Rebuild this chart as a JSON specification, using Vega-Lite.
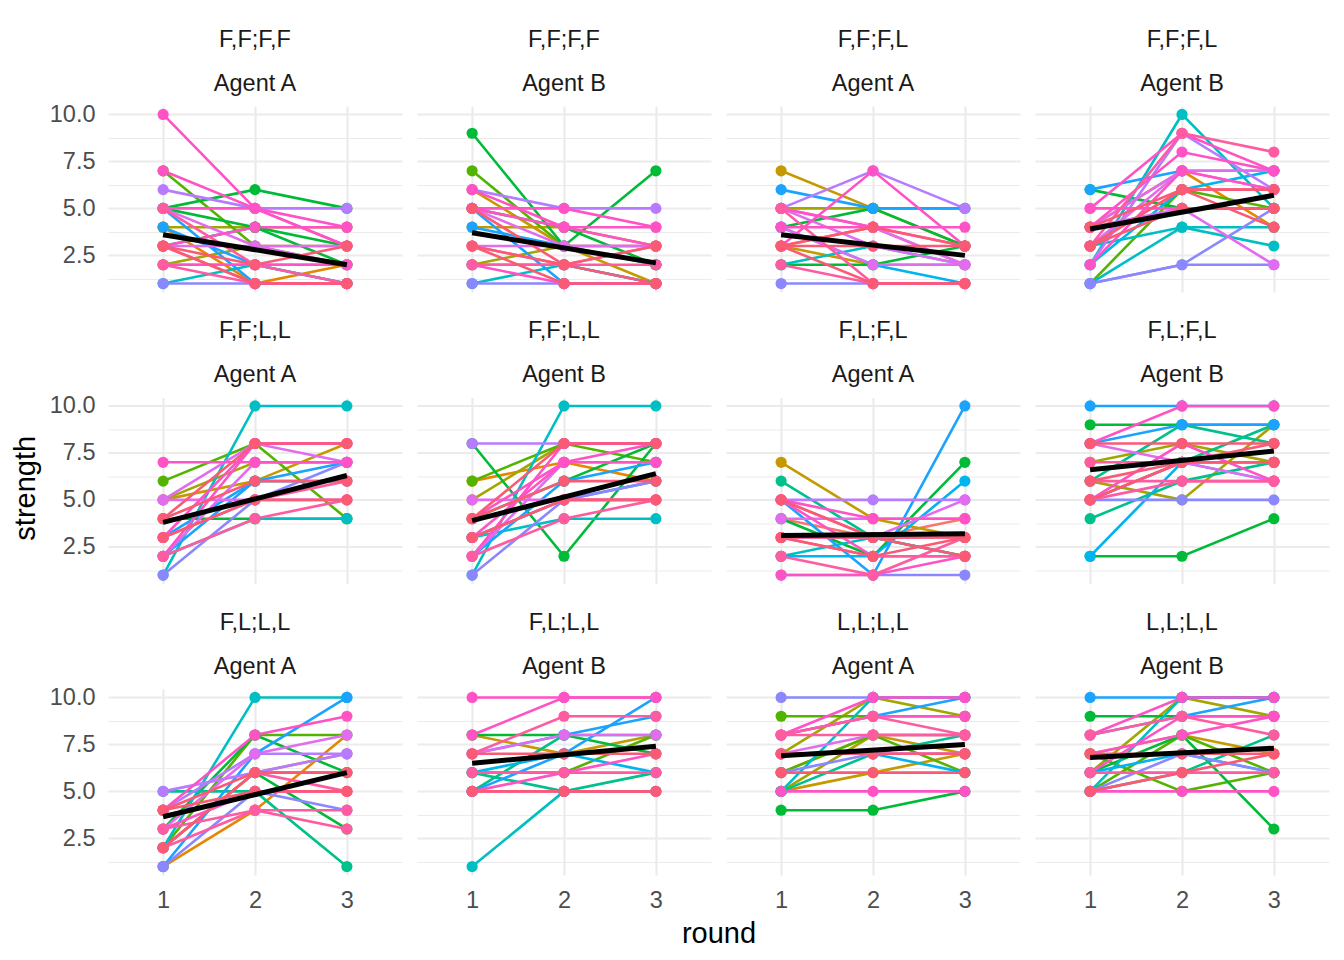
{
  "$schema": "https://vega.github.io/schema/vega-lite/v6.json",
  "background": "white",
  "padding": {"left": 12, "top": 27, "right": 14, "bottom": 10},
  "title": {"text": "strength", "orient": "left", "anchor": "middle", "fontSize": 29, "fontWeight": "normal", "font": "Liberation Sans", "color": "#000000", "offset": 8},
  "data": {"values": [
    {"f":"F,F;F,F|Agent A","p":2,"g":1,"1":4,"2":1,"3":2},
    {"f":"F,F;F,F|Agent A","p":4,"g":2,"1":4,"2":4,"3":4},
    {"f":"F,F;F,F|Agent A","p":4,"g":3,"1":2,"2":3,"3":3},
    {"f":"F,F;F,F|Agent A","p":5,"g":4,"1":7,"2":3,"3":2},
    {"f":"F,F;F,F|Agent A","p":6,"g":5,"1":5,"2":6,"3":5},
    {"f":"F,F;F,F|Agent A","p":6,"g":6,"1":5,"2":4,"3":2},
    {"f":"F,F;F,F|Agent A","p":6,"g":7,"1":3,"2":4,"3":3},
    {"f":"F,F;F,F|Agent A","p":8,"g":8,"1":1,"2":2,"3":1},
    {"f":"F,F;F,F|Agent A","p":10,"g":9,"1":4,"2":2,"3":1},
    {"f":"F,F;F,F|Agent A","p":10,"g":10,"1":5,"2":1,"3":1},
    {"f":"F,F;F,F|Agent A","p":12,"g":11,"1":1,"2":1,"3":1},
    {"f":"F,F;F,F|Agent A","p":13,"g":12,"1":6,"2":5,"3":5},
    {"f":"F,F;F,F|Agent A","p":14,"g":13,"1":5,"2":3,"3":2},
    {"f":"F,F;F,F|Agent A","p":14,"g":14,"1":3,"2":3,"3":3},
    {"f":"F,F;F,F|Agent A","p":14,"g":15,"1":2,"2":2,"3":2},
    {"f":"F,F;F,F|Agent A","p":15,"g":16,"1":10,"2":5,"3":3},
    {"f":"F,F;F,F|Agent A","p":15,"g":17,"1":7,"2":5,"3":3},
    {"f":"F,F;F,F|Agent A","p":15,"g":18,"1":5,"2":5,"3":4},
    {"f":"F,F;F,F|Agent A","p":15,"g":19,"1":3,"2":4,"3":4},
    {"f":"F,F;F,F|Agent A","p":15,"g":20,"1":2,"2":2,"3":2},
    {"f":"F,F;F,F|Agent A","p":16,"g":21,"1":3,"2":1,"3":1},
    {"f":"F,F;F,F|Agent A","p":16,"g":22,"1":5,"2":2,"3":1},
    {"f":"F,F;F,F|Agent A","p":16,"g":23,"1":2,"2":1,"3":1},
    {"f":"F,F;F,F|Agent A","p":17,"g":24,"1":3,"2":2,"3":3},
    {"f":"F,F;F,F|Agent A","p":17,"g":25,"1":3,"2":1,"3":1},
    {"f":"F,F;F,F|Agent A","p":0,"g":0,"1":3.6,"3":2.0},

    {"f":"F,F;F,F|Agent B","p":3,"g":1,"1":6,"2":3,"3":1},
    {"f":"F,F;F,F|Agent B","p":3,"g":2,"1":4,"2":4,"3":3},
    {"f":"F,F;F,F|Agent B","p":4,"g":3,"1":2,"2":3,"3":3},
    {"f":"F,F;F,F|Agent B","p":5,"g":4,"1":7,"2":3,"3":2},
    {"f":"F,F;F,F|Agent B","p":6,"g":5,"1":9,"2":3,"3":7},
    {"f":"F,F;F,F|Agent B","p":6,"g":6,"1":5,"2":4,"3":2},
    {"f":"F,F;F,F|Agent B","p":8,"g":7,"1":1,"2":2,"3":1},
    {"f":"F,F;F,F|Agent B","p":9,"g":8,"1":2,"2":2,"3":1},
    {"f":"F,F;F,F|Agent B","p":10,"g":9,"1":4,"2":3,"3":2},
    {"f":"F,F;F,F|Agent B","p":10,"g":10,"1":5,"2":1,"3":1},
    {"f":"F,F;F,F|Agent B","p":12,"g":11,"1":1,"2":1,"3":1},
    {"f":"F,F;F,F|Agent B","p":13,"g":12,"1":6,"2":5,"3":5},
    {"f":"F,F;F,F|Agent B","p":14,"g":13,"1":5,"2":3,"3":3},
    {"f":"F,F;F,F|Agent B","p":14,"g":14,"1":3,"2":3,"3":3},
    {"f":"F,F;F,F|Agent B","p":15,"g":15,"1":6,"2":4,"3":3},
    {"f":"F,F;F,F|Agent B","p":15,"g":16,"1":5,"2":5,"3":4},
    {"f":"F,F;F,F|Agent B","p":15,"g":17,"1":2,"2":1,"3":1},
    {"f":"F,F;F,F|Agent B","p":15,"g":18,"1":5,"2":4,"3":4},
    {"f":"F,F;F,F|Agent B","p":16,"g":19,"1":3,"2":2,"3":2},
    {"f":"F,F;F,F|Agent B","p":16,"g":20,"1":2,"2":2,"3":3},
    {"f":"F,F;F,F|Agent B","p":17,"g":21,"1":3,"2":1,"3":1},
    {"f":"F,F;F,F|Agent B","p":17,"g":22,"1":3,"2":2,"3":3},
    {"f":"F,F;F,F|Agent B","p":17,"g":23,"1":5,"2":2,"3":1},
    {"f":"F,F;F,F|Agent B","p":0,"g":0,"1":3.7,"3":2.1},

    {"f":"F,F;F,L|Agent A","p":1,"g":1,"1":3,"2":4,"3":2},
    {"f":"F,F;F,L|Agent A","p":3,"g":2,"1":7,"2":5,"3":3},
    {"f":"F,F;F,L|Agent A","p":3,"g":3,"1":3,"2":2,"3":2},
    {"f":"F,F;F,L|Agent A","p":4,"g":4,"1":5,"2":5,"3":5},
    {"f":"F,F;F,L|Agent A","p":6,"g":5,"1":4,"2":5,"3":3},
    {"f":"F,F;F,L|Agent A","p":6,"g":6,"1":2,"2":2,"3":3},
    {"f":"F,F;F,L|Agent A","p":8,"g":7,"1":2,"2":3,"3":2},
    {"f":"F,F;F,L|Agent A","p":9,"g":8,"1":4,"2":2,"3":1},
    {"f":"F,F;F,L|Agent A","p":10,"g":9,"1":6,"2":5,"3":5},
    {"f":"F,F;F,L|Agent A","p":12,"g":10,"1":1,"2":1,"3":1},
    {"f":"F,F;F,L|Agent A","p":13,"g":11,"1":5,"2":7,"3":5},
    {"f":"F,F;F,L|Agent A","p":14,"g":12,"1":5,"2":3,"3":2},
    {"f":"F,F;F,L|Agent A","p":14,"g":13,"1":5,"2":4,"3":2},
    {"f":"F,F;F,L|Agent A","p":14,"g":14,"1":4,"2":2,"3":2},
    {"f":"F,F;F,L|Agent A","p":15,"g":15,"1":3,"2":7,"3":3},
    {"f":"F,F;F,L|Agent A","p":15,"g":16,"1":4,"2":4,"3":4},
    {"f":"F,F;F,L|Agent A","p":15,"g":17,"1":5,"2":4,"3":3},
    {"f":"F,F;F,L|Agent A","p":16,"g":18,"1":5,"2":1,"3":1},
    {"f":"F,F;F,L|Agent A","p":16,"g":19,"1":2,"2":1,"3":1},
    {"f":"F,F;F,L|Agent A","p":17,"g":20,"1":3,"2":3,"3":3},
    {"f":"F,F;F,L|Agent A","p":17,"g":21,"1":3,"2":4,"3":3},
    {"f":"F,F;F,L|Agent A","p":17,"g":22,"1":3,"2":1,"3":1},
    {"f":"F,F;F,L|Agent A","p":0,"g":0,"1":3.6,"3":2.5},

    {"f":"F,F;F,L|Agent B","p":2,"g":1,"1":4,"2":7,"3":4},
    {"f":"F,F;F,L|Agent B","p":5,"g":2,"1":1,"2":6,"3":5},
    {"f":"F,F;F,L|Agent B","p":6,"g":3,"1":6,"2":5,"3":5},
    {"f":"F,F;F,L|Agent B","p":8,"g":4,"1":2,"2":10,"3":5},
    {"f":"F,F;F,L|Agent B","p":8,"g":5,"1":1,"2":4,"3":3},
    {"f":"F,F;F,L|Agent B","p":8,"g":6,"1":3,"2":4,"3":4},
    {"f":"F,F;F,L|Agent B","p":9,"g":7,"1":2,"2":6,"3":7},
    {"f":"F,F;F,L|Agent B","p":10,"g":8,"1":6,"2":7,"3":7},
    {"f":"F,F;F,L|Agent B","p":12,"g":9,"1":1,"2":2,"3":5},
    {"f":"F,F;F,L|Agent B","p":12,"g":10,"1":1,"2":2,"3":2},
    {"f":"F,F;F,L|Agent B","p":13,"g":11,"1":2,"2":9,"3":6},
    {"f":"F,F;F,L|Agent B","p":14,"g":12,"1":4,"2":5,"3":2},
    {"f":"F,F;F,L|Agent B","p":14,"g":13,"1":4,"2":7,"3":6},
    {"f":"F,F;F,L|Agent B","p":14,"g":14,"1":3,"2":7,"3":7},
    {"f":"F,F;F,L|Agent B","p":15,"g":15,"1":5,"2":9,"3":7},
    {"f":"F,F;F,L|Agent B","p":15,"g":16,"1":4,"2":8,"3":7},
    {"f":"F,F;F,L|Agent B","p":15,"g":17,"1":2,"2":7,"3":6},
    {"f":"F,F;F,L|Agent B","p":15,"g":18,"1":5,"2":5,"3":5},
    {"f":"F,F;F,L|Agent B","p":16,"g":19,"1":3,"2":9,"3":8},
    {"f":"F,F;F,L|Agent B","p":16,"g":20,"1":3,"2":6,"3":6},
    {"f":"F,F;F,L|Agent B","p":17,"g":21,"1":3,"2":6,"3":4},
    {"f":"F,F;F,L|Agent B","p":17,"g":22,"1":4,"2":6,"3":6},
    {"f":"F,F;F,L|Agent B","p":17,"g":23,"1":3,"2":5,"3":5},
    {"f":"F,F;F,L|Agent B","p":0,"g":0,"1":3.9,"3":5.7},

    {"f":"F,F;L,L|Agent A","p":3,"g":1,"1":5,"2":6,"3":8},
    {"f":"F,F;L,L|Agent A","p":4,"g":2,"1":5,"2":7,"3":7},
    {"f":"F,F;L,L|Agent A","p":5,"g":3,"1":6,"2":8,"3":4},
    {"f":"F,F;L,L|Agent A","p":6,"g":4,"1":4,"2":4,"3":4},
    {"f":"F,F;L,L|Agent A","p":8,"g":5,"1":1,"2":10,"3":10},
    {"f":"F,F;L,L|Agent A","p":8,"g":6,"1":2,"2":4,"3":4},
    {"f":"F,F;L,L|Agent A","p":10,"g":7,"1":2,"2":6,"3":7},
    {"f":"F,F;L,L|Agent A","p":10,"g":8,"1":3,"2":6,"3":6},
    {"f":"F,F;L,L|Agent A","p":12,"g":9,"1":1,"2":5,"3":7},
    {"f":"F,F;L,L|Agent A","p":14,"g":10,"1":5,"2":5,"3":5},
    {"f":"F,F;L,L|Agent A","p":14,"g":11,"1":2,"2":7,"3":7},
    {"f":"F,F;L,L|Agent A","p":14,"g":12,"1":5,"2":8,"3":7},
    {"f":"F,F;L,L|Agent A","p":15,"g":13,"1":7,"2":7,"3":7},
    {"f":"F,F;L,L|Agent A","p":15,"g":14,"1":3,"2":8,"3":8},
    {"f":"F,F;L,L|Agent A","p":15,"g":15,"1":2,"2":8,"3":8},
    {"f":"F,F;L,L|Agent A","p":16,"g":16,"1":3,"2":5,"3":6},
    {"f":"F,F;L,L|Agent A","p":16,"g":17,"1":2,"2":4,"3":5},
    {"f":"F,F;L,L|Agent A","p":17,"g":18,"1":4,"2":6,"3":6},
    {"f":"F,F;L,L|Agent A","p":17,"g":19,"1":3,"2":5,"3":5},
    {"f":"F,F;L,L|Agent A","p":17,"g":20,"1":4,"2":8,"3":8},
    {"f":"F,F;L,L|Agent A","p":0,"g":0,"1":3.8,"3":6.3},

    {"f":"F,F;L,L|Agent B","p":2,"g":1,"1":6,"2":7,"3":6},
    {"f":"F,F;L,L|Agent B","p":4,"g":2,"1":5,"2":8,"3":8},
    {"f":"F,F;L,L|Agent B","p":5,"g":3,"1":6,"2":8,"3":7},
    {"f":"F,F;L,L|Agent B","p":6,"g":4,"1":8,"2":2,"3":8},
    {"f":"F,F;L,L|Agent B","p":6,"g":5,"1":4,"2":6,"3":8},
    {"f":"F,F;L,L|Agent B","p":8,"g":6,"1":1,"2":10,"3":10},
    {"f":"F,F;L,L|Agent B","p":8,"g":7,"1":3,"2":4,"3":4},
    {"f":"F,F;L,L|Agent B","p":10,"g":8,"1":2,"2":6,"3":7},
    {"f":"F,F;L,L|Agent B","p":10,"g":9,"1":3,"2":5,"3":6},
    {"f":"F,F;L,L|Agent B","p":12,"g":10,"1":1,"2":5,"3":6},
    {"f":"F,F;L,L|Agent B","p":13,"g":11,"1":8,"2":8,"3":8},
    {"f":"F,F;L,L|Agent B","p":14,"g":12,"1":5,"2":5,"3":5},
    {"f":"F,F;L,L|Agent B","p":14,"g":13,"1":2,"2":7,"3":7},
    {"f":"F,F;L,L|Agent B","p":15,"g":14,"1":3,"2":7,"3":7},
    {"f":"F,F;L,L|Agent B","p":15,"g":15,"1":2,"2":8,"3":8},
    {"f":"F,F;L,L|Agent B","p":15,"g":16,"1":4,"2":7,"3":8},
    {"f":"F,F;L,L|Agent B","p":16,"g":17,"1":2,"2":4,"3":5},
    {"f":"F,F;L,L|Agent B","p":16,"g":18,"1":3,"2":5,"3":5},
    {"f":"F,F;L,L|Agent B","p":17,"g":19,"1":4,"2":6,"3":6},
    {"f":"F,F;L,L|Agent B","p":17,"g":20,"1":3,"2":5,"3":5},
    {"f":"F,F;L,L|Agent B","p":17,"g":21,"1":4,"2":8,"3":8},
    {"f":"F,F;L,L|Agent B","p":0,"g":0,"1":3.9,"3":6.4},

    {"f":"F,L;F,L|Agent A","p":1,"g":1,"1":4,"2":3,"3":4},
    {"f":"F,L;F,L|Agent A","p":3,"g":2,"1":7,"2":4,"3":3},
    {"f":"F,L;F,L|Agent A","p":6,"g":3,"1":4,"2":2,"3":7},
    {"f":"F,L;F,L|Agent A","p":7,"g":4,"1":6,"2":3,"3":2},
    {"f":"F,L;F,L|Agent A","p":8,"g":5,"1":2,"2":3,"3":2},
    {"f":"F,L;F,L|Agent A","p":9,"g":6,"1":2,"2":2,"3":6},
    {"f":"F,L;F,L|Agent A","p":10,"g":7,"1":5,"2":1,"3":10},
    {"f":"F,L;F,L|Agent A","p":12,"g":8,"1":1,"2":1,"3":1},
    {"f":"F,L;F,L|Agent A","p":13,"g":9,"1":5,"2":5,"3":5},
    {"f":"F,L;F,L|Agent A","p":14,"g":10,"1":4,"2":4,"3":4},
    {"f":"F,L;F,L|Agent A","p":14,"g":11,"1":3,"2":3,"3":5},
    {"f":"F,L;F,L|Agent A","p":15,"g":12,"1":5,"2":4,"3":4},
    {"f":"F,L;F,L|Agent A","p":15,"g":13,"1":1,"2":1,"3":2},
    {"f":"F,L;F,L|Agent A","p":15,"g":14,"1":5,"2":2,"3":2},
    {"f":"F,L;F,L|Agent A","p":16,"g":15,"1":3,"2":2,"3":2},
    {"f":"F,L;F,L|Agent A","p":16,"g":16,"1":5,"2":3,"3":3},
    {"f":"F,L;F,L|Agent A","p":16,"g":17,"1":2,"2":1,"3":3},
    {"f":"F,L;F,L|Agent A","p":17,"g":18,"1":3,"2":3,"3":3},
    {"f":"F,L;F,L|Agent A","p":17,"g":19,"1":3,"2":2,"3":3},
    {"f":"F,L;F,L|Agent A","p":17,"g":20,"1":5,"2":3,"3":2},
    {"f":"F,L;F,L|Agent A","p":0,"g":0,"1":3.1,"3":3.2},

    {"f":"F,L;F,L|Agent B","p":1,"g":1,"1":5,"2":7,"3":7},
    {"f":"F,L;F,L|Agent B","p":4,"g":2,"1":7,"2":8,"3":7},
    {"f":"F,L;F,L|Agent B","p":4,"g":3,"1":6,"2":5,"3":9},
    {"f":"F,L;F,L|Agent B","p":6,"g":4,"1":2,"2":2,"3":4},
    {"f":"F,L;F,L|Agent B","p":6,"g":5,"1":9,"2":9,"3":9},
    {"f":"F,L;F,L|Agent B","p":7,"g":6,"1":4,"2":6,"3":7},
    {"f":"F,L;F,L|Agent B","p":7,"g":7,"1":6,"2":9,"3":8},
    {"f":"F,L;F,L|Agent B","p":7,"g":8,"1":5,"2":7,"3":9},
    {"f":"F,L;F,L|Agent B","p":9,"g":9,"1":2,"2":7,"3":6},
    {"f":"F,L;F,L|Agent B","p":10,"g":10,"1":10,"2":10,"3":10},
    {"f":"F,L;F,L|Agent B","p":10,"g":11,"1":8,"2":9,"3":9},
    {"f":"F,L;F,L|Agent B","p":12,"g":12,"1":5,"2":5,"3":5},
    {"f":"F,L;F,L|Agent B","p":14,"g":13,"1":8,"2":7,"3":6},
    {"f":"F,L;F,L|Agent B","p":15,"g":14,"1":8,"2":10,"3":10},
    {"f":"F,L;F,L|Agent B","p":15,"g":15,"1":5,"2":8,"3":6},
    {"f":"F,L;F,L|Agent B","p":15,"g":16,"1":5,"2":7,"3":7},
    {"f":"F,L;F,L|Agent B","p":16,"g":17,"1":7,"2":7,"3":7},
    {"f":"F,L;F,L|Agent B","p":16,"g":18,"1":6,"2":6,"3":6},
    {"f":"F,L;F,L|Agent B","p":16,"g":19,"1":5,"2":6,"3":6},
    {"f":"F,L;F,L|Agent B","p":17,"g":20,"1":8,"2":8,"3":8},
    {"f":"F,L;F,L|Agent B","p":17,"g":21,"1":6,"2":7,"3":7},
    {"f":"F,L;F,L|Agent B","p":17,"g":22,"1":5,"2":7,"3":8},
    {"f":"F,L;F,L|Agent B","p":0,"g":0,"1":6.6,"3":7.6},

    {"f":"F,L;L,L|Agent A","p":2,"g":1,"1":1,"2":4,"3":8},
    {"f":"F,L;L,L|Agent A","p":2,"g":2,"1":2,"2":6,"3":7},
    {"f":"F,L;L,L|Agent A","p":5,"g":3,"1":2,"2":8,"3":8},
    {"f":"F,L;L,L|Agent A","p":6,"g":4,"1":3,"2":8,"3":6},
    {"f":"F,L;L,L|Agent A","p":6,"g":5,"1":2,"2":6,"3":3},
    {"f":"F,L;L,L|Agent A","p":7,"g":6,"1":5,"2":5,"3":1},
    {"f":"F,L;L,L|Agent A","p":8,"g":7,"1":2,"2":10,"3":10},
    {"f":"F,L;L,L|Agent A","p":10,"g":8,"1":1,"2":7,"3":10},
    {"f":"F,L;L,L|Agent A","p":12,"g":9,"1":1,"2":5,"3":4},
    {"f":"F,L;L,L|Agent A","p":13,"g":10,"1":4,"2":7,"3":7},
    {"f":"F,L;L,L|Agent A","p":13,"g":11,"1":5,"2":6,"3":7},
    {"f":"F,L;L,L|Agent A","p":14,"g":12,"1":3,"2":7,"3":8},
    {"f":"F,L;L,L|Agent A","p":15,"g":13,"1":4,"2":8,"3":9},
    {"f":"F,L;L,L|Agent A","p":15,"g":14,"1":3,"2":5,"3":5},
    {"f":"F,L;L,L|Agent A","p":16,"g":15,"1":2,"2":4,"3":3},
    {"f":"F,L;L,L|Agent A","p":16,"g":16,"1":2,"2":6,"3":5},
    {"f":"F,L;L,L|Agent A","p":16,"g":17,"1":3,"2":4,"3":4},
    {"f":"F,L;L,L|Agent A","p":17,"g":18,"1":4,"2":6,"3":6},
    {"f":"F,L;L,L|Agent A","p":17,"g":19,"1":2,"2":6,"3":6},
    {"f":"F,L;L,L|Agent A","p":17,"g":20,"1":4,"2":5,"3":5},
    {"f":"F,L;L,L|Agent A","p":0,"g":0,"1":3.65,"3":6.0},

    {"f":"F,L;L,L|Agent B","p":3,"g":1,"1":8,"2":7,"3":8},
    {"f":"F,L;L,L|Agent B","p":5,"g":2,"1":6,"2":6,"3":8},
    {"f":"F,L;L,L|Agent B","p":6,"g":3,"1":8,"2":8,"3":7},
    {"f":"F,L;L,L|Agent B","p":7,"g":4,"1":6,"2":5,"3":6},
    {"f":"F,L;L,L|Agent B","p":7,"g":5,"1":5,"2":8,"3":8},
    {"f":"F,L;L,L|Agent B","p":8,"g":6,"1":1,"2":5,"3":5},
    {"f":"F,L;L,L|Agent B","p":9,"g":7,"1":6,"2":7,"3":6},
    {"f":"F,L;L,L|Agent B","p":10,"g":8,"1":5,"2":7,"3":10},
    {"f":"F,L;L,L|Agent B","p":10,"g":9,"1":7,"2":8,"3":9},
    {"f":"F,L;L,L|Agent B","p":14,"g":10,"1":7,"2":8,"3":8},
    {"f":"F,L;L,L|Agent B","p":15,"g":11,"1":10,"2":10,"3":10},
    {"f":"F,L;L,L|Agent B","p":15,"g":12,"1":8,"2":10,"3":10},
    {"f":"F,L;L,L|Agent B","p":15,"g":13,"1":5,"2":6,"3":7},
    {"f":"F,L;L,L|Agent B","p":15,"g":14,"1":5,"2":5,"3":5},
    {"f":"F,L;L,L|Agent B","p":16,"g":15,"1":7,"2":9,"3":9},
    {"f":"F,L;L,L|Agent B","p":16,"g":16,"1":6,"2":6,"3":6},
    {"f":"F,L;L,L|Agent B","p":17,"g":17,"1":7,"2":7,"3":7},
    {"f":"F,L;L,L|Agent B","p":17,"g":18,"1":5,"2":5,"3":5},
    {"f":"F,L;L,L|Agent B","p":0,"g":0,"1":6.5,"3":7.4},

    {"f":"L,L;L,L|Agent A","p":3,"g":1,"1":5,"2":6,"3":7},
    {"f":"L,L;L,L|Agent A","p":3,"g":2,"1":6,"2":8,"3":7},
    {"f":"L,L;L,L|Agent A","p":4,"g":3,"1":7,"2":10,"3":9},
    {"f":"L,L;L,L|Agent A","p":4,"g":4,"1":5,"2":8,"3":8},
    {"f":"L,L;L,L|Agent A","p":5,"g":5,"1":9,"2":9,"3":9},
    {"f":"L,L;L,L|Agent A","p":5,"g":6,"1":6,"2":8,"3":6},
    {"f":"L,L;L,L|Agent A","p":6,"g":7,"1":4,"2":4,"3":5},
    {"f":"L,L;L,L|Agent A","p":7,"g":8,"1":5,"2":7,"3":8},
    {"f":"L,L;L,L|Agent A","p":8,"g":9,"1":5,"2":10,"3":10},
    {"f":"L,L;L,L|Agent A","p":9,"g":10,"1":7,"2":7,"3":6},
    {"f":"L,L;L,L|Agent A","p":10,"g":11,"1":8,"2":9,"3":10},
    {"f":"L,L;L,L|Agent A","p":12,"g":12,"1":10,"2":10,"3":10},
    {"f":"L,L;L,L|Agent A","p":12,"g":13,"1":6,"2":7,"3":7},
    {"f":"L,L;L,L|Agent A","p":14,"g":14,"1":7,"2":8,"3":8},
    {"f":"L,L;L,L|Agent A","p":15,"g":15,"1":8,"2":10,"3":10},
    {"f":"L,L;L,L|Agent A","p":15,"g":16,"1":8,"2":9,"3":9},
    {"f":"L,L;L,L|Agent A","p":15,"g":17,"1":5,"2":5,"3":5},
    {"f":"L,L;L,L|Agent A","p":15,"g":18,"1":7,"2":7,"3":7},
    {"f":"L,L;L,L|Agent A","p":16,"g":19,"1":8,"2":9,"3":8},
    {"f":"L,L;L,L|Agent A","p":16,"g":20,"1":8,"2":8,"3":8},
    {"f":"L,L;L,L|Agent A","p":17,"g":21,"1":6,"2":6,"3":6},
    {"f":"L,L;L,L|Agent A","p":17,"g":22,"1":7,"2":7,"3":7},
    {"f":"L,L;L,L|Agent A","p":0,"g":0,"1":6.9,"3":7.5},

    {"f":"L,L;L,L|Agent B","p":3,"g":1,"1":7,"2":8,"3":7},
    {"f":"L,L;L,L|Agent B","p":4,"g":2,"1":6,"2":10,"3":9},
    {"f":"L,L;L,L|Agent B","p":5,"g":3,"1":5,"2":8,"3":6},
    {"f":"L,L;L,L|Agent B","p":5,"g":4,"1":7,"2":5,"3":6},
    {"f":"L,L;L,L|Agent B","p":6,"g":5,"1":9,"2":9,"3":9},
    {"f":"L,L;L,L|Agent B","p":6,"g":6,"1":6,"2":8,"3":3},
    {"f":"L,L;L,L|Agent B","p":7,"g":7,"1":5,"2":6,"3":8},
    {"f":"L,L;L,L|Agent B","p":8,"g":8,"1":5,"2":10,"3":10},
    {"f":"L,L;L,L|Agent B","p":9,"g":9,"1":6,"2":7,"3":6},
    {"f":"L,L;L,L|Agent B","p":10,"g":10,"1":10,"2":10,"3":10},
    {"f":"L,L;L,L|Agent B","p":10,"g":11,"1":8,"2":9,"3":10},
    {"f":"L,L;L,L|Agent B","p":12,"g":12,"1":5,"2":7,"3":6},
    {"f":"L,L;L,L|Agent B","p":15,"g":13,"1":8,"2":10,"3":10},
    {"f":"L,L;L,L|Agent B","p":15,"g":14,"1":7,"2":8,"3":9},
    {"f":"L,L;L,L|Agent B","p":15,"g":15,"1":5,"2":5,"3":5},
    {"f":"L,L;L,L|Agent B","p":15,"g":16,"1":6,"2":9,"3":9},
    {"f":"L,L;L,L|Agent B","p":16,"g":17,"1":8,"2":9,"3":8},
    {"f":"L,L;L,L|Agent B","p":16,"g":18,"1":6,"2":6,"3":6},
    {"f":"L,L;L,L|Agent B","p":17,"g":19,"1":7,"2":7,"3":7},
    {"f":"L,L;L,L|Agent B","p":17,"g":20,"1":5,"2":6,"3":7},
    {"f":"L,L;L,L|Agent B","p":0,"g":0,"1":6.8,"3":7.3}
  ]},
  "transform": [{"fold": ["1", "2", "3"], "as": ["round", "strength"]}],
  "facet": {
    "field": "f",
    "type": "nominal",
    "title": "round",
    "header": {"labelExpr": "split(datum.value, '|')", "titleOrient": "bottom"}
  },
  "columns": 4,
  "spacing": {"column": 15, "row": 26.5},
  "spec": {
    "width": 294,
    "height": 186,
    "encoding": {
      "x": {
        "field": "round",
        "type": "ordinal",
        "scale": {"type": "point", "padding": 0.6},
        "axis": {"title": null, "labelAngle": 0, "grid": true, "gridWidth": 2.2, "labelPadding": 13}
      },
      "y": {
        "field": "strength",
        "type": "quantitative",
        "scale": {"domain": [0.55, 10.45], "nice": false, "zero": false},
        "axis": {
          "title": null,
          "values": [1.25, 2.5, 3.75, 5, 6.25, 7.5, 8.75, 10],
          "labelExpr": "datum.value % 2.5 == 0 ? format(datum.value, '.1f') : ''",
          "gridWidth": {"condition": {"test": "datum.value % 2.5 == 0", "value": 2.2}, "value": 1.1},
          "labelPadding": 13
        }
      }
    },
    "layer": [
      {
        "transform": [{"filter": "datum.p > 0"}],
        "mark": {"type": "line", "strokeWidth": 2.6},
        "encoding": {
          "color": {"field": "p", "type": "nominal", "legend": null,
            "scale": {"domain": [1,2,3,4,5,6,7,8,9,10,11,12,13,14,15,16,17],
              "range": ["#F8766D","#E58700","#C49A00","#A3A500","#53B400","#00BA38","#00C08B","#00BFC4","#00B4EF","#1AA3FF","#619CFF","#8B87FF","#B77BFF","#E26CF0","#FF52C4","#FF5BA0","#FA5A74"]}},
          "detail": {"field": "g"}
        }
      },
      {
        "transform": [{"filter": "datum.p > 0"}],
        "mark": {"type": "point", "filled": true, "size": 125, "opacity": 1},
        "encoding": {
          "color": {"field": "p", "type": "nominal", "legend": null,
            "scale": {"domain": [1,2,3,4,5,6,7,8,9,10,11,12,13,14,15,16,17],
              "range": ["#F8766D","#E58700","#C49A00","#A3A500","#53B400","#00BA38","#00C08B","#00BFC4","#00B4EF","#1AA3FF","#619CFF","#8B87FF","#B77BFF","#E26CF0","#FF52C4","#FF5BA0","#FA5A74"]}}
        }
      },
      {
        "transform": [{"filter": "datum.p == 0 && isValid(datum.strength)"}],
        "mark": {"type": "line", "color": "#000000", "strokeWidth": 5},
        "encoding": {}
      }
    ]
  },
  "config": {
    "view": {"stroke": null},
    "font": "Liberation Sans",
    "axis": {
      "domain": false, "ticks": false, "tickSize": 0,
      "labelFont": "Liberation Sans", "labelFontSize": 23.5, "labelColor": "#4D4D4D",
      "gridColor": "#EBEBEB"
    },
    "header": {
      "labelFont": "Liberation Sans", "labelFontSize": 23.5, "labelColor": "#1A1A1A",
      "labelLineHeight": 44, "labelPadding": 11,
      "titleFont": "Liberation Sans", "titleFontSize": 29, "titleFontWeight": "normal", "titleColor": "#000000",
      "titlePadding": 8
    }
  }
}
